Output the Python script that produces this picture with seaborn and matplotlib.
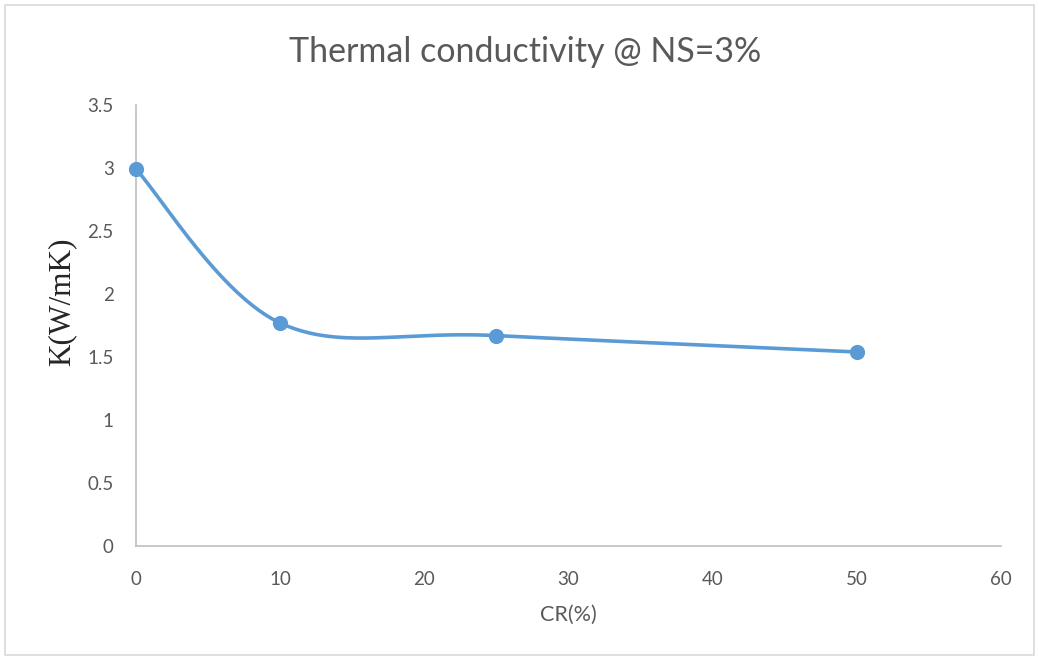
import numpy as np
import pandas as pd
import matplotlib
matplotlib.use("Agg")
import matplotlib.pyplot as plt
import seaborn as sns
from matplotlib.patches import Rectangle

# ---- data ----
cr_percent = [0, 10, 25, 50]
conductivity = [2.99, 1.77, 1.67, 1.54]
x_ticks = [0, 10, 20, 30, 40, 50, 60]
y_ticks = [0, 0.5, 1, 1.5, 2, 2.5, 3, 3.5]
y_tick_labels = ["0", "0.5", "1", "1.5", "2", "2.5", "3", "3.5"]
title_text = "Thermal conductivity @ NS=3%"
x_label = "CR(%)"
y_label = "K(W/mK)"

sns.set_theme(style="white")
plt.rcParams['font.family'] = ['Lato', 'DejaVu Sans']

fig = plt.figure(figsize=(10.39, 6.59), dpi=100)
ax = fig.add_axes([136/1039, 113/659, (1001-136)/1039, (546-105)/659])

# Excel-style smoothed curve (Bezier through points, computed in pixel space)
xmin, xmax, ymin, ymax = 0, 60, 0, 3.5
sx = (1001-136) / (xmax - xmin)
sy = (546-105) / (ymax - ymin)
P = np.column_stack([np.array(cr_percent, float) * sx, np.array(conductivity, float) * sy])
Pext = np.vstack([P[0], P, P[-1]])
curve = []
t = np.linspace(0, 1, 60)[:, None]
for i in range(len(P) - 1):
    p0 = Pext[i + 1]
    p3 = Pext[i + 2]
    c1 = p0 + (Pext[i + 2] - Pext[i]) / 6.0
    c2 = p3 - (Pext[i + 3] - Pext[i + 1]) / 6.0
    seg = (1 - t) ** 3 * p0 + 3 * (1 - t) ** 2 * t * c1 + 3 * (1 - t) * t ** 2 * c2 + t ** 3 * p3
    curve.append(seg if i == 0 else seg[1:])
curve = np.vstack(curve)
smooth = pd.DataFrame({"x": curve[:, 0] / sx, "y": curve[:, 1] / sy})
pts = pd.DataFrame({"x": cr_percent, "y": conductivity})

blue = "#5B9BD5"
ax.plot(smooth["x"], smooth["y"], color=blue, lw=2.6, solid_capstyle="round", zorder=2)
sns.scatterplot(data=pts, x="x", y="y", ax=ax, color=blue, s=120, edgecolor=blue, linewidth=0, zorder=3, clip_on=False)

ax.set_xlim(xmin, xmax)
ax.set_ylim(ymin, ymax)
ax.set_xticks(x_ticks)
ax.set_yticks(y_ticks)
ax.set_yticklabels(y_tick_labels)
ax.tick_params(axis="both", length=0, labelsize=13.5, colors="#595959")
ax.tick_params(axis="x", pad=18)
ax.tick_params(axis="y", pad=16)
for s in ["top", "right"]:
    ax.spines[s].set_visible(False)
for s in ["left", "bottom"]:
    ax.spines[s].set_color("#BFBFBF")
    ax.spines[s].set_linewidth(1.2)
ax.grid(False)

ax.set_xlabel(x_label, fontsize=15.5, color="#595959", labelpad=12)
ax.set_ylabel(y_label, fontsize=22.5, color="#262626", family=["Liberation Serif", "DejaVu Serif"])
ax.yaxis.set_label_coords(-(136-76)/865, (546-302)/441)
fig.text(0.505, 1 - 52/659, title_text, ha="center", va="center", fontsize=24.5, color="#595959")

fig.patches.append(Rectangle((5/1039, 4/659), 1029/1039, 650/659, transform=fig.transFigure,
                             fill=False, edgecolor="#D9D9D9", lw=1.2))

fig.savefig("out.png", dpi=100)
